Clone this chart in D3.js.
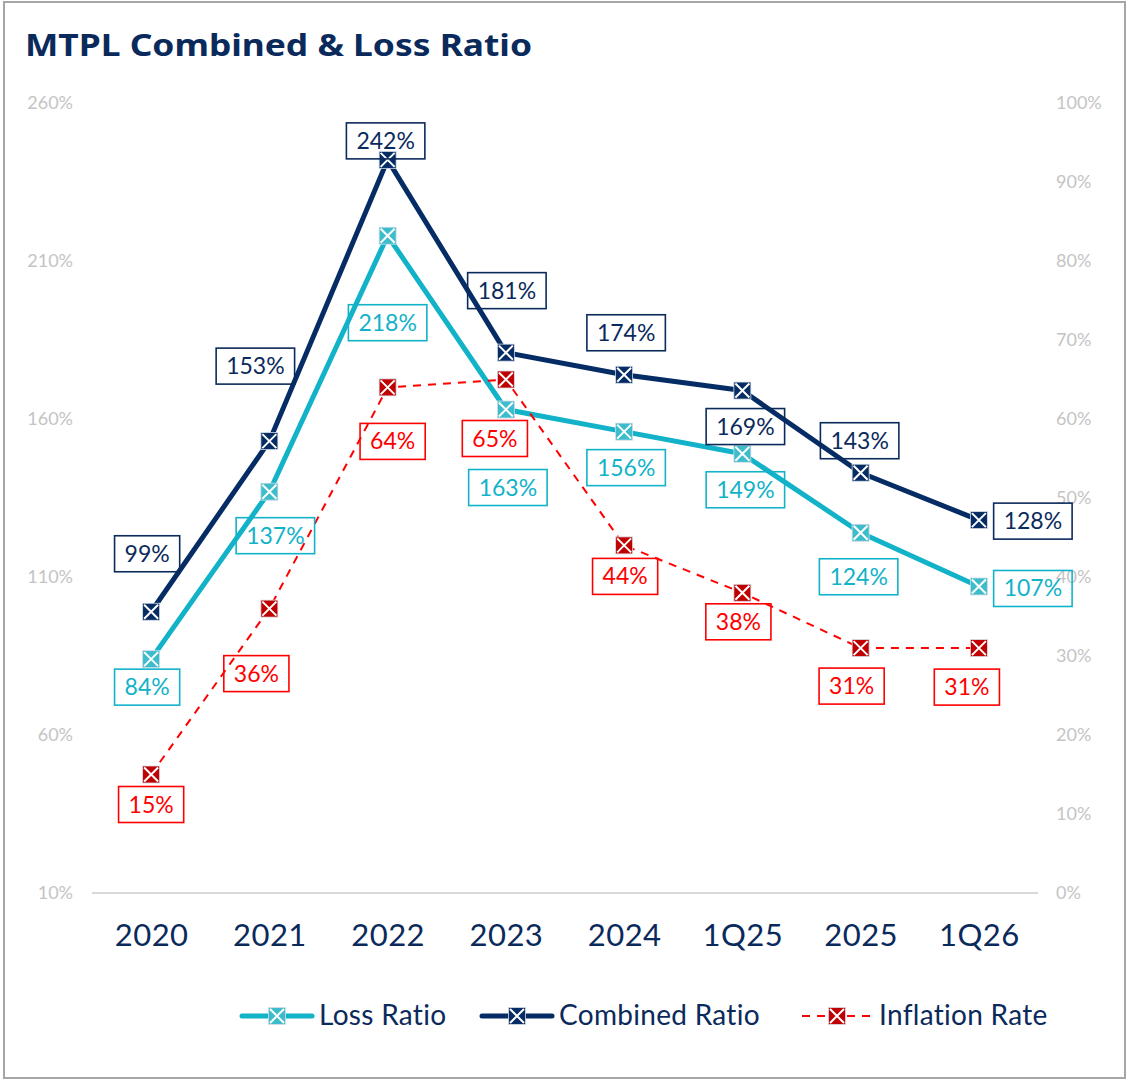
<!DOCTYPE html>
<html>
<head>
<meta charset="utf-8">
<script src="https://cdn.jsdelivr.net/npm/d3@7"></script>
<style>
  html, body { margin: 0; padding: 0; background: #fff; }
  svg { display: block; font-family: Lato, "Open Sans", sans-serif; }
</style>
</head>
<body>
<svg id="chart" width="1127" height="1081"></svg>
<script>
// Categories and series (ratios in %, inflation on the secondary axis)
const categories = ["2020", "2021", "2022", "2023", "2024", "1Q25", "2025", "1Q26"];
const lossRatio = [84, 137, 218, 163, 156, 149, 124, 107];
const combinedRatio = [99, 153, 242, 181, 174, 169, 143, 128];
const inflationRate = [15, 36, 64, 65, 44, 38, 31, 31];
const leftTicks = [10, 60, 110, 160, 210, 260];
const rightTicks = [0, 10, 20, 30, 40, 50, 60, 70, 80, 90, 100];

// Data-label placement relative to each marker (dx, dy in px)
const labelOffsets = {
  combined: [[-4, -58], [-14, -75], [-2, -19], [1, -62], [2, -42], [3, 36], [-1, -32], [54, 1]],
  loss: [[-4, 28], [6, 44], [0, 87], [2, 78], [2, 36], [3, 36], [-2, 44], [54, 2]],
  inflation: [[0, 30], [-13, 65], [5, 54], [-11, 59], [1, 31], [-4, 29], [-9, 38], [-12, 39]]
};

const svg = d3.select("#chart");
const plot = { left: 92, right: 1038, top: 103, bottom: 893 };

// Outer frame
svg.append("rect")
  .attr("x", 4).attr("y", 2).attr("width", 1121).attr("height", 1076)
  .attr("fill", "#fff").attr("stroke", "#a6a6a6").attr("stroke-width", 2);

// Title
svg.append("text")
  .attr("x", 25).attr("y", 56)
  .attr("fill", "#0b2a5c")
  .attr("font-size", 31).attr("font-weight", 700)
  .attr("font-family", "'Noto Sans', Lato, sans-serif")
  .attr("textLength", 507).attr("lengthAdjust", "spacingAndGlyphs")
  .text("MTPL Combined & Loss Ratio");

const x = d3.scalePoint().domain(categories).range([plot.left, plot.right]).padding(0.5);
const yL = d3.scaleLinear().domain([10, 260]).range([plot.bottom, plot.top]);
const yR = d3.scaleLinear().domain([0, 100]).range([plot.bottom, plot.top]);

// Axes
const axisL = svg.append("g").attr("transform", `translate(${plot.left},0)`)
  .call(d3.axisLeft(yL).tickValues(leftTicks).tickSize(0).tickPadding(19).tickFormat(d => d + "%"));
const axisR = svg.append("g").attr("transform", `translate(${plot.right},0)`)
  .call(d3.axisRight(yR).tickValues(rightTicks).tickSize(0).tickPadding(18).tickFormat(d => d + "%"));
[axisL, axisR].forEach(g => {
  g.select(".domain").remove();
  g.selectAll("text").attr("fill", "#c4c4c4").attr("font-size", 18).attr("font-family", "Lato, sans-serif");
});

// Baseline
svg.append("line")
  .attr("x1", plot.left).attr("x2", plot.right)
  .attr("y1", plot.bottom).attr("y2", plot.bottom)
  .attr("stroke", "#d9d9d9").attr("stroke-width", 2);

const axisX = svg.append("g").attr("transform", `translate(0,${plot.bottom})`)
  .call(d3.axisBottom(x).tickSize(0).tickPadding(31));
axisX.select(".domain").remove();
axisX.selectAll("text").attr("fill", "#0b2a5c").attr("font-size", 31)
  .attr("letter-spacing", 0.5).attr("font-family", "Lato, sans-serif");

// Series definitions
const series = [
  { key: "loss", values: lossRatio, y: yL, line: "#12b2c9", marker: "#3dbdcb", width: 5, dash: null, text: "#12b2c9", box: "#12b2c9" },
  { key: "combined", values: combinedRatio, y: yL, line: "#052c64", marker: "#052c64", width: 5, dash: null, text: "#0b2a5c", box: "#0b2a5c" },
  { key: "inflation", values: inflationRate, y: yR, line: "#ff0000", marker: "#c00000", width: 2, dash: "8,7", text: "#ff0000", box: "#ff0000" }
];

function drawMarker(g, cx, cy, fill) {
  const s = 8.5;
  g.append("rect").attr("x", cx - s).attr("y", cy - s).attr("width", 2 * s).attr("height", 2 * s)
    .attr("fill", fill).attr("stroke", "#d6dde6").attr("stroke-width", 0.8);
  const k = 7;
  g.append("path")
    .attr("d", `M${cx - k},${cy - k}L${cx + k},${cy + k}M${cx + k},${cy - k}L${cx - k},${cy + k}`)
    .attr("stroke", "#fff").attr("stroke-width", 2);
}

const linesG = svg.append("g");
const markersG = svg.append("g");
const labelsG = svg.append("g");

series.forEach(s => {
  const line = d3.line().x((d, i) => x(categories[i])).y(d => s.y(d));
  linesG.append("path").datum(s.values)
    .attr("d", line).attr("fill", "none")
    .attr("stroke", s.line).attr("stroke-width", s.width)
    .attr("stroke-linejoin", "round")
    .attr("stroke-dasharray", s.dash);
  s.values.forEach((v, i) => drawMarker(markersG, x(categories[i]), s.y(v), s.marker));
});

// Data labels in outlined boxes
series.forEach(s => {
  s.values.forEach((v, i) => {
    const [dx, dy] = labelOffsets[s.key][i];
    const cx = x(categories[i]) + dx, cy = s.y(v) + dy;
    const t = labelsG.append("text")
      .attr("x", cx).attr("y", cy + 8)
      .attr("text-anchor", "middle")
      .attr("fill", s.text).attr("font-size", 23)
      .text(v + "%");
    const w = t.node().getComputedTextLength() + 20;
    labelsG.insert("rect", "text")
      .attr("x", cx - w / 2).attr("y", cy - 18).attr("width", w).attr("height", 36)
      .attr("fill", "none").attr("stroke", s.box).attr("stroke-width", 1.6);
  });
});

// Legend
const legend = [
  { label: "Loss Ratio", s: series[0], x0: 242, x1: 312, tx: 319 },
  { label: "Combined Ratio", s: series[1], x0: 482, x1: 552, tx: 559 },
  { label: "Inflation Rate", s: series[2], x0: 802, x1: 872, tx: 879 }
];
const ly = 1016;
legend.forEach(l => {
  svg.append("line").attr("x1", l.x0).attr("x2", l.x1).attr("y1", ly).attr("y2", ly)
    .attr("stroke", l.s.line).attr("stroke-width", l.s.width)
    .attr("stroke-linecap", l.s.dash ? "butt" : "round")
    .attr("stroke-dasharray", l.s.dash ? "8,7" : null);
  drawMarker(svg.append("g"), (l.x0 + l.x1) / 2, ly, l.s.marker);
  svg.append("text").attr("x", l.tx).attr("y", ly + 9)
    .attr("fill", "#0b2a5c").attr("font-size", 28).attr("letter-spacing", 0.3).text(l.label);
});
</script>
</body>
</html>
